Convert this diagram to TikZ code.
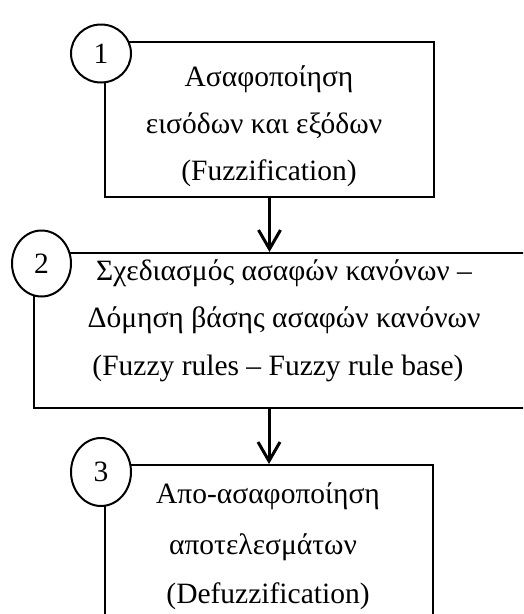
\documentclass[tikz,border=0pt]{standalone}
\usepackage{fontspec}
\setmainfont{Liberation Serif}
\usetikzlibrary{arrows.meta,shapes.geometric}
\begin{document}
\begin{tikzpicture}[x=1pt,y=-1pt,
  stage/.style={draw,line width=2pt,rectangle,inner sep=0pt},
  badge/.style={draw,line width=2pt,ellipse,fill=white,inner sep=0pt,
    font=\fontsize{29.5}{35}\selectfont},
  textline/.style={anchor=base,inner sep=0pt,font=\fontsize{29.5}{35}\selectfont},
  flow/.style={line width=3pt,-{Straight Barb[length=19pt,width=22pt]}}]
\useasboundingbox (0,0) rectangle (523,614);
\clip (0,0) rectangle (523,614);

% stage frames
\node[stage,minimum width=329pt,minimum height=155pt] (b1) at (269.5,119.5) {};
\node[stage,minimum width=506pt,minimum height=155pt] (b2) at (287,330.5) {};
\node[stage,minimum width=328pt,minimum height=165pt] (b3) at (269,547.5) {};

% flow between stages
\draw[flow] (b1.south) -- (b1.south |- b2.north);
\draw[flow] (b3.north |- b2.south) -- (b3.north);

% numbered badges
\node[badge,minimum width=60pt,minimum height=58pt] (n1) at (101,53.5) {1};
\node[badge,minimum width=59pt,minimum height=66pt] (n2) at (41.5,263.5) {2};
\node[badge,minimum width=60pt,minimum height=68pt] (n3) at (101,472) {3};

% stage 1 text
\node[textline] (t1a) at (269,86) {Ασαφοποίηση};
\node[textline] (t1b) at (264,133) {εισόδων και εξόδων};
\node[textline] (t1c) at (269,180) {(Fuzzification)};

% stage 2 text
\node[textline] (t2a) at (284,280) {Σχεδιασμός ασαφών κανόνων –};
\node[textline] (t2b) at (284,327) {Δόμηση βάσης ασαφών κανόνων};
\node[textline] (t2c) at (278,375) {(Fuzzy rules – Fuzzy rule base)};

% stage 3 text
\node[textline] (t3a) at (268,503) {Απο-ασαφοποίηση};
\node[textline] (t3b) at (263,554) {αποτελεσμάτων};
\node[textline] (t3c) at (268,603) {(Defuzzification)};
\end{tikzpicture}
\end{document}
